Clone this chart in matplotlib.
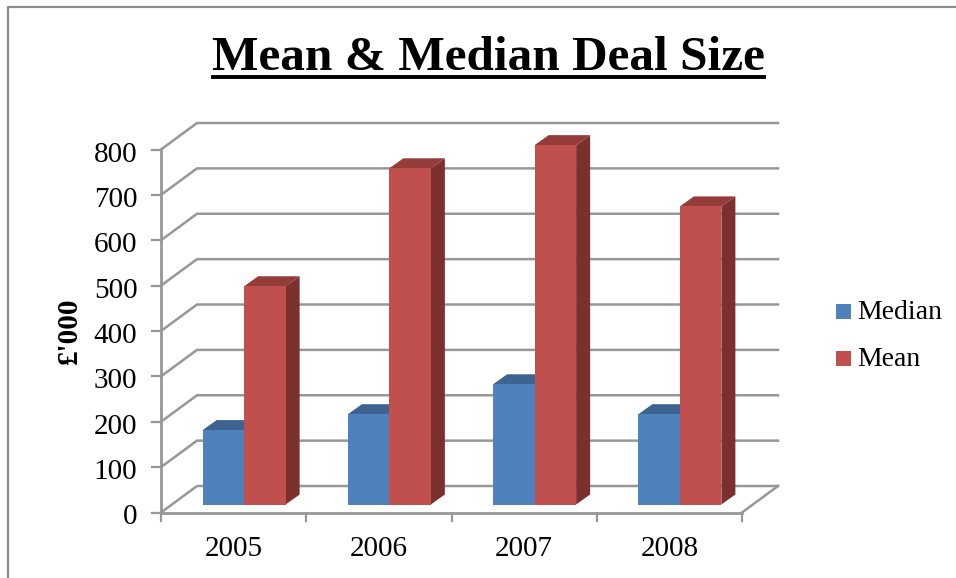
import matplotlib
matplotlib.use("Agg")
import matplotlib.pyplot as plt
from matplotlib.patches import Polygon, Rectangle
from matplotlib.lines import Line2D
from matplotlib.transforms import ScaledTranslation

years = ["2005", "2006", "2007", "2008"]
median = [164, 199, 265, 199]
mean = [481, 741, 792, 657]
yticks = [0, 100, 200, 300, 400, 500, 600, 700, 800]

SERIF = "Liberation Serif"
GRID = "#979797"
BLUE, BLUE_TOP = "#4f81bd", "#3d6390"
RED, RED_TOP, RED_SIDE = "#c0504d", "#933c3a", "#7b302e"

W, H = 956, 578
fig = plt.figure(figsize=(W / 100, H / 100), dpi=100)
ax = fig.add_axes([161 / W, 1 - 512.5 / H, 581 / W, 363 / H])
ax.set_xlim(0, 4)
ax.set_ylim(0, 800)
ax.patch.set_visible(False)
for s in ax.spines.values():
    s.set_visible(False)

# depth of the box and of the bars, in data units
box_dx, box_dy = 36 / 145.25, 26.5 / 0.454
bar_dx, bar_dy = 14 / 145.25, 10 / 0.454
# bars stand a bit inside the floor
base_x, base_y = 10.5 / 145.25, 8 / 0.454
bar_w = 41.5 / 145.25


def line(xs, ys, lw=2.0, z=1, color=GRID):
    ax.add_line(Line2D(xs, ys, color=color, lw=lw, clip_on=False, zorder=z,
                       solid_capstyle="projecting"))


# back wall lines and the slanted ones on the left side
for t in yticks:
    line([0, box_dx, 4 + box_dx], [t, t + box_dy, t + box_dy], lw=1.8)

# floor
line([4, 4 + box_dx], [0, box_dy], lw=1.8)
line([0, 4], [0, 0])
line([0, 0], [0, 800])

# tick marks
for t in yticks:
    ax.plot([-9 / 145.25, 0], [t, t], color=GRID, lw=1.6, clip_on=False, zorder=1)
for i in range(5):
    ax.plot([i, i], [0, -9 / 0.454], color=GRID, lw=1.6, clip_on=False, zorder=1)


def bar3d(x, h, front, top, side):
    y0 = base_y
    y1 = base_y + h
    ax.add_patch(Polygon([(x + bar_w, y0), (x + bar_w + bar_dx, y0 + bar_dy),
                          (x + bar_w + bar_dx, y1 + bar_dy), (x + bar_w, y1)],
                         fc=side, ec="none", zorder=3, clip_on=False))
    ax.add_patch(Polygon([(x, y1), (x + bar_dx, y1 + bar_dy),
                          (x + bar_w + bar_dx, y1 + bar_dy), (x + bar_w, y1)],
                         fc=top, ec="none", zorder=3, clip_on=False))
    ax.add_patch(Rectangle((x, y0), bar_w, h, fc=front, ec="none", zorder=4,
                           clip_on=False))


for i in range(len(years)):
    left = i + 0.5 + base_x - bar_w
    bar3d(left, median[i], BLUE, BLUE_TOP, BLUE_TOP)
    bar3d(left + bar_w, mean[i], RED, RED_TOP, RED_SIDE)

ax.set_xticks([i + 0.5 for i in range(4)])
ax.set_xticklabels(years, family=SERIF, fontsize=21)
ax.set_yticks(yticks)
ax.set_yticklabels([str(t) for t in yticks], family=SERIF, fontsize=21)
ax.tick_params(length=0, pad=17)
ax.tick_params(axis="x", pad=17)
# nudge the value labels down a little
nudge = ScaledTranslation(0, -2 / 100, fig.dpi_scale_trans)
for lab in ax.get_yticklabels():
    lab.set_transform(lab.get_transform() + nudge)
ax.set_ylabel("£'000", family=SERIF, fontsize=21, fontweight="bold", labelpad=8)

# chart frame: left and top edges only
fig.add_artist(Line2D([7.5 / W, 7.5 / W, 1], [0, 1 - 6.5 / H, 1 - 6.5 / H],
                      color="#8c8c8c", lw=1.6, transform=fig.transFigure))

fig.text(488.5 / W, 1 - 58 / H, "Mean & Median Deal Size", family=SERIF,
         fontsize=35.5, fontweight="bold", ha="center", va="center")
fig.add_artist(Line2D([213 / W, 764 / W], [1 - 76.5 / H, 1 - 76.5 / H],
                      color="black", lw=2.8))

# legend
for label, color, y in [("Median", BLUE, 311.5), ("Mean", RED, 358.5)]:
    fig.add_artist(Rectangle((836 / W, 1 - (y + 7.5) / H), 15 / W, 15 / H,
                             fc=color, ec="none", transform=fig.transFigure))
    fig.text(857 / W, 1 - (y + 0.5) / H, label, family=SERIF, fontsize=20, va="center")

fig.savefig("out.png", dpi=100)
